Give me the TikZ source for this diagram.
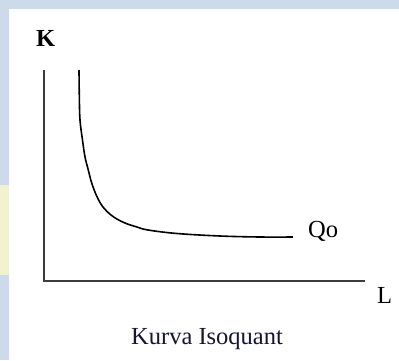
\documentclass[tikz,border=0pt]{standalone}
\usepackage{fontspec}
\setmainfont{Liberation Serif}
\definecolor{bgblue}{RGB}{205,218,234}
\definecolor{bgyellow}{RGB}{242,242,208}
\definecolor{axisgray}{RGB}{60,60,60}
\definecolor{captioncol}{RGB}{22,22,48}
\tikzset{
  lbl/.style={anchor=base west, inner sep=0pt, font=\fontsize{24.5}{28}\selectfont},
  axisline/.style={draw=axisgray, line width=2pt},
  isoline/.style={draw=black, line width=1.6pt}
}
\begin{document}
\begin{tikzpicture}[x=1pt,y=-1pt]
  \useasboundingbox (0,0) rectangle (399,360);
  % background
  \fill[bgblue] (0,0) rectangle (399,360);
  \fill[bgyellow] (0,185) rectangle (9,275);
  \fill[white] (9,9) rectangle (399,360);
  % axes
  \coordinate (Ktop) at (44,70);
  \coordinate (O) at (44,281);
  \coordinate (Lend) at (365,281);
  \draw[axisline] (Ktop) -- (O) -- (Lend);
  % isoquant
  \draw[isoline] plot[smooth, tension=0.6] coordinates {
    (79,70) (79.3,95) (80,120) (82.5,140) (85,157) (88.3,170) (91.7,183)
    (96.7,196) (103,207) (113,216.5) (125,223) (137,227) (148,230)
    (177,233.5) (220,236) (260,237) (293,237)};
  % labels
  \node[lbl, font=\fontsize{24.5}{28}\selectfont\bfseries] (K) at (36,46) {K};
  \node[lbl] (L) at (377,303) {L};
  \node[lbl] (Q) at (308,237) {Qo};
  \node[lbl, text=captioncol] (cap) at (131,344) {Kurva Isoquant};
\end{tikzpicture}
\end{document}
